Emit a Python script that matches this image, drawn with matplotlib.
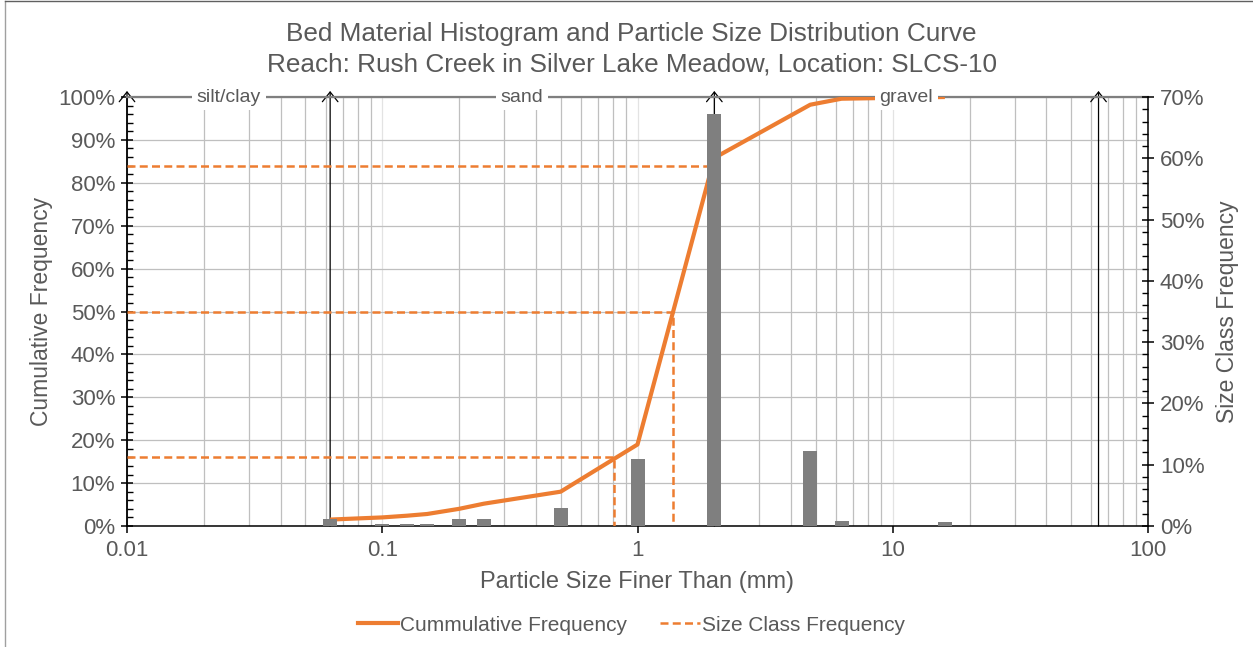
import matplotlib
matplotlib.use('Agg')
import matplotlib.pyplot as plt
from matplotlib.ticker import MultipleLocator, FuncFormatter, PercentFormatter, LogLocator
from matplotlib.lines import Line2D
import numpy as np

plt.rcParams['font.family'] = ['Liberation Sans', 'DejaVu Sans']

# sieve sizes (mm) and size class frequency (% of sample), right axis
bar_sizes = [0.0625, 0.1, 0.125, 0.15, 0.2, 0.25, 0.5, 1, 2, 4.75, 6.3, 16]
bar_freq = [1.2, 0.4, 0.4, 0.4, 1.15, 1.15, 3.0, 10.9, 67.2, 12.3, 0.8, 0.7]

# cumulative percent finer, left axis
cum_sizes = [0.0625, 0.1, 0.125, 0.15, 0.2, 0.25, 0.5, 1, 2, 4.75, 6.3, 16]
cum_pct = [1.5, 2.0, 2.4, 2.8, 4.0, 5.2, 8.0, 19.0, 85.8, 98.2, 99.6, 100]

# D16 / D50 / D84
d_pct = [16, 50, 84]
d_size = [0.81, 1.38, 1.96]

# size classes
class_bounds = [0.01, 0.0625, 2, 64]
class_names = ['silt/clay', 'sand', 'gravel']

ORANGE = '#ED7D31'
TXT = '#595959'

fig = plt.figure(figsize=(12.53, 6.47), dpi=100)
ax1 = fig.add_axes([127 / 1253, 1 - 526 / 647, (1148 - 127) / 1253, (526 - 97) / 647])
ax2 = ax1.twinx()

ax1.set_xscale('log')
ax1.set_xlim(0.01, 100)
ax1.set_ylim(0, 100)
ax2.set_ylim(0, 70)

# grid
ax1.xaxis.set_minor_locator(LogLocator(base=10, subs=np.arange(2, 10)))
ax1.grid(which='minor', axis='x', color='#BFBFBF', lw=0.9)
ax1.grid(which='major', axis='x', color='#E3E3E3', lw=0.9)
ax1.grid(which='major', axis='y', color='#BFBFBF', lw=0.9)
ax1.set_axisbelow(True)

# cumulative curve
ax1.plot(cum_sizes, cum_pct, color=ORANGE, lw=3.0, zorder=3, solid_capstyle='butt')

# D16/D50/D84 dashed lines
for p, d in zip(d_pct, d_size):
    ax1.plot([0.01, d, d], [p, p, 0], color=ORANGE, lw=1.8, dashes=(3.2, 1.7), zorder=3)

# size class boundary arrows
for b in class_bounds:
    ax1.annotate('', xy=(b, 101.4), xytext=(b, 0), annotation_clip=False,
                 arrowprops=dict(arrowstyle='->,head_length=0.5,head_width=0.4',
                                 color='black', lw=0.9, mutation_scale=14,
                                 shrinkA=0, shrinkB=0), zorder=2.7)

# top class line with labels
ax1.axhline(100, color='#7F7F7F', lw=1.6, zorder=2.8, clip_on=False)
for i, name in enumerate(class_names):
    xm = np.sqrt(class_bounds[i] * class_bounds[i + 1])
    ax1.text(xm, 100, name, ha='center', va='center', fontsize=14, color=TXT,
             bbox=dict(facecolor='white', edgecolor='none', pad=3.5), zorder=6)

# histogram bars (constant width on the log axis)
w = 14 / 255.25
bs = np.array(bar_sizes)
lefts = bs * 10 ** (-w / 2)
widths = bs * 10 ** (w / 2) - lefts
ax2.bar(lefts, bar_freq, width=widths, align='edge', color='#7F7F7F', zorder=3)

# axes styling
for ax in (ax1, ax2):
    ax.spines['top'].set_visible(False)
    for s in ('left', 'right', 'bottom'):
        ax.spines[s].set_linewidth(1.1)
ax2.spines['left'].set_visible(False)
ax2.spines['bottom'].set_visible(False)
ax1.spines['right'].set_visible(False)

ax1.xaxis.set_major_formatter(FuncFormatter(lambda v, p: '%g' % v))
ax1.tick_params(axis='x', which='major', direction='out', length=5, width=1.1,
                labelsize=16, labelcolor=TXT, pad=5)
ax1.tick_params(axis='x', which='minor', length=0)

ax1.yaxis.set_major_locator(MultipleLocator(10))
ax1.yaxis.set_minor_locator(MultipleLocator(2))
ax1.yaxis.set_major_formatter(PercentFormatter(decimals=0))
ax1.tick_params(axis='y', which='major', direction='inout', length=9, width=1.1,
                labelsize=16, labelcolor=TXT, pad=4)
ax1.tick_params(axis='y', which='minor', direction='in', length=4, width=1.0)

ax2.yaxis.set_major_locator(MultipleLocator(10))
ax2.yaxis.set_minor_locator(MultipleLocator(2))
ax2.yaxis.set_major_formatter(PercentFormatter(decimals=0))
ax2.tick_params(axis='y', which='major', direction='inout', length=9, width=1.1,
                labelsize=16, labelcolor=TXT, pad=4)
ax2.tick_params(axis='y', which='minor', direction='in', length=4, width=1.0)

ax1.set_xlabel('Particle Size Finer Than (mm)', fontsize=17, color=TXT, labelpad=7)
ax1.set_ylabel('Cumulative Frequency', fontsize=16.5, color=TXT, labelpad=4)
ax2.set_ylabel('Size Class Frequency', fontsize=16.5, color=TXT, labelpad=8)

fig.text(0.504, 0.948, 'Bed Material Histogram and Particle Size Distribution Curve',
         ha='center', va='center', fontsize=18.8, color=TXT)
fig.text(0.504, 0.901, 'Reach: Rush Creek in Silver Lake Meadow, Location: SLCS-10',
         ha='center', va='center', fontsize=18.8, color=TXT)

handles = [Line2D([], [], color=ORANGE, lw=3.0),
           Line2D([], [], color=ORANGE, lw=1.8, dashes=(3.2, 1.7))]
fig.legend(handles, ['Cummulative Frequency', 'Size Class Frequency'],
           loc='center', bbox_to_anchor=(0.504, 0.034), ncol=2, frameon=False,
           fontsize=15, labelcolor=TXT, handlelength=1.9, handletextpad=0.1,
           columnspacing=1.6)

# chart area border (left and top)
fig.add_artist(Line2D([0.004, 0.004], [0, 0.998], color='#A0A0A0', lw=1))
fig.add_artist(Line2D([0.004, 1], [0.998, 0.998], color='#606060', lw=1))

fig.savefig('out.png', dpi=100)
